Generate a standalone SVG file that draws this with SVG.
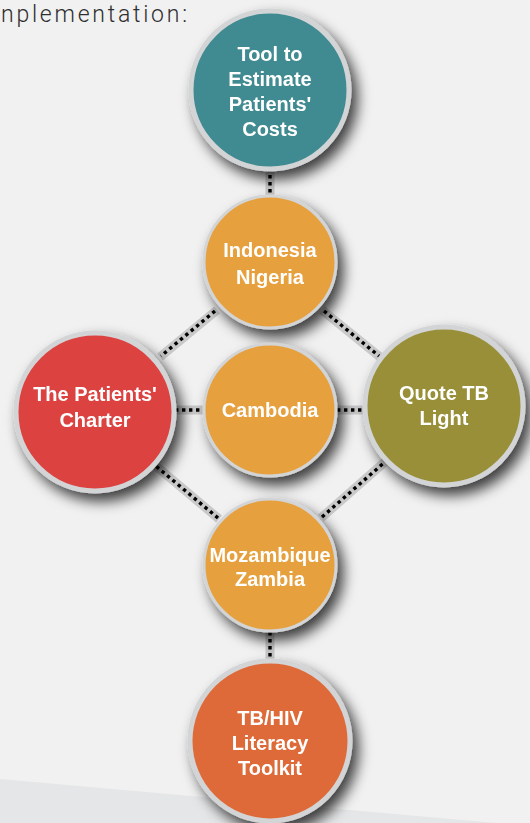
<svg xmlns="http://www.w3.org/2000/svg" width="530" height="823" viewBox="0 0 530 823">
  <defs>
    <filter id="shadow" x="-30%" y="-30%" width="170%" height="170%">
      <feDropShadow dx="6" dy="8" stdDeviation="7" flood-color="#000" flood-opacity="0.75"/>
    </filter>
    <style>
      .ring { stroke: #d3d4d6; stroke-width: 5; }
      .ring-s { stroke: #d3d4d6; stroke-width: 3; }
      .label { font-family: "Liberation Sans", Arial, sans-serif; font-weight: bold; font-size: 20px; fill: #ffffff; text-anchor: middle; }
      .band { stroke: #c9c9c9; stroke-width: 9; fill: none; }
      .dots { stroke: #000; stroke-width: 3.4; stroke-dasharray: 3.4 3.6; fill: none; }
      .heading { font-family: Roboto, "Liberation Sans", sans-serif; font-weight: 300; font-size: 23px; fill: #2e2e2e; }
    </style>
  </defs>

  <!-- backdrop -->
  <rect width="530" height="823" fill="#f1f1f1"/>
  <polygon points="0,779 530,826 0,826" fill="#e5e6e7"/>

  <text class="heading" x="1" y="22" textLength="186" lengthAdjust="spacing">nplementation:</text>

  <!-- dotted links between the circles -->
  <g id="connectors">
    <g class="band">
      <line x1="270" y1="166" x2="270" y2="197"/>
      <line x1="217" y1="310" x2="160" y2="357"/>
      <line x1="322" y1="310" x2="380" y2="357"/>
      <line x1="173" y1="410" x2="205" y2="410"/>
      <line x1="335" y1="410" x2="364" y2="410"/>
      <line x1="150" y1="461" x2="219" y2="519"/>
      <line x1="321" y1="518" x2="387" y2="460"/>
      <line x1="270" y1="630" x2="270" y2="661"/>
    </g>
    <g class="dots">
      <line x1="270" y1="168" x2="270" y2="196"/>
      <line x1="215" y1="311" x2="161" y2="356"/>
      <line x1="324" y1="311" x2="379" y2="356"/>
      <line x1="175" y1="410" x2="204" y2="410"/>
      <line x1="337" y1="410" x2="363" y2="410"/>
      <line x1="151" y1="462" x2="218" y2="518"/>
      <line x1="322" y1="517" x2="386" y2="461"/>
      <line x1="270" y1="632" x2="270" y2="660"/>
    </g>
  </g>

  <g id="patient-costs" filter="url(#shadow)">
    <circle cx="270" cy="90" r="79" fill="#3f8a91" class="ring"/>
    <text class="label" x="270" y="61">Tool to</text>
    <text class="label" x="270" y="86">Estimate</text>
    <text class="label" x="270" y="111">Patients'</text>
    <text class="label" x="270" y="136">Costs</text>
  </g>

  <g id="indonesia-nigeria" filter="url(#shadow)">
    <circle cx="270" cy="262" r="66" fill="#e6a03c" class="ring-s"/>
    <text class="label" x="270" y="257">Indonesia</text>
    <text class="label" x="270" y="284">Nigeria</text>
  </g>

  <g id="cambodia" filter="url(#shadow)">
    <circle cx="270" cy="410" r="66" fill="#e6a03c" class="ring-s"/>
    <text class="label" x="270" y="417">Cambodia</text>
  </g>

  <g id="mozambique-zambia" filter="url(#shadow)">
    <circle cx="270" cy="565" r="66" fill="#e6a03c" class="ring-s"/>
    <text class="label" x="270" y="562">Mozambique</text>
    <text class="label" x="270" y="586">Zambia</text>
  </g>

  <g id="patients-charter" filter="url(#shadow)">
    <circle cx="95" cy="412" r="79" fill="#db4241" class="ring"/>
    <text class="label" x="95" y="401">The Patients'</text>
    <text class="label" x="95" y="427">Charter</text>
  </g>

  <g id="quote-tb-light" filter="url(#shadow)">
    <circle cx="444" cy="406" r="79" fill="#998f37" class="ring"/>
    <text class="label" x="444" y="400">Quote TB</text>
    <text class="label" x="444" y="425">Light</text>
  </g>

  <g id="tbhiv-toolkit" filter="url(#shadow)">
    <circle cx="270" cy="741" r="80" fill="#dd6a38" class="ring"/>
    <text class="label" x="270" y="725">TB/HIV</text>
    <text class="label" x="270" y="750">Literacy</text>
    <text class="label" x="270" y="775">Toolkit</text>
  </g>
</svg>
